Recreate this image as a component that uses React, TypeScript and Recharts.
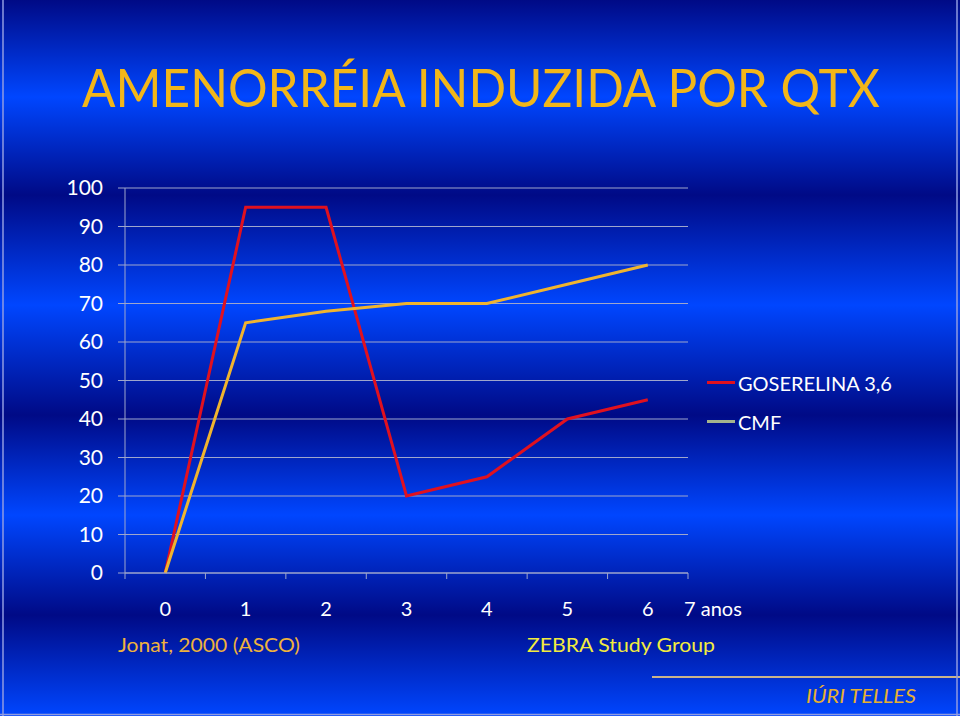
import { LineChart, Line, XAxis, YAxis, CartesianGrid, Legend } from "recharts";
import type { CSSProperties } from "react";

const YEARS = [0, 1, 2, 3, 4, 5, 6];
const GOSERELINA = [0, 95, 95, 20, 25, 40, 45];
const CMF = [0, 65, 68, 70, 70, 75, 80];

const Y_TICKS = [0, 10, 20, 30, 40, 50, 60, 70, 80, 90, 100];
const BAND_EDGES = [-0.5, 0.5, 1.5, 2.5, 3.5, 4.5, 5.5, 6.5];
const YEAR_LABELS = [0, 1, 2, 3, 4, 5, 6, 6.5];
const LAST_LABEL = "7 anos";

const SERIES = [
  { key: "goserelina", name: "GOSERELINA 3,6", color: "#e0111f", legend: "#e0111f" },
  { key: "cmf", name: "CMF", color: "#f0b42e", legend: "#a4b38d" },
];

const data = YEARS.map((year, i) => ({ year, goserelina: GOSERELINA[i], cmf: CMF[i] }));

const FONT = "Lato, 'Open Sans', sans-serif";
const GRID = "#9ea6cc";

function YearTick(props: any) {
  const { x, y, payload } = props;
  const last = payload.value === 6.5;
  return (
    <text
      x={last ? x - 4 : x}
      y={y}
      dy={14}
      textAnchor={last ? "start" : "middle"}
      fill="#ffffff"
      fontSize={20}
      fontFamily={FONT}
    >
      {last ? LAST_LABEL : payload.value}
    </text>
  );
}

// legend keeps the series order (recharts sorts by name otherwise)
function LegendBox() {
  return (
    <div>
      {SERIES.map((s) => (
        <div key={s.key} style={legendRow}>
          <span style={{ width: 28, height: 3, background: s.legend, display: "inline-block" }} />
          <span style={{ marginLeft: 3, fontSize: 20, color: "#ffffff", fontFamily: FONT }}>{s.name}</span>
        </div>
      ))}
    </div>
  );
}

export default function App() {
  return (
    <div style={frame}>
      <div style={background} />
      <div style={{ position: "absolute", left: 0, top: 0 }}>
        <LineChart width={960} height={716} data={data} margin={{ top: 188, right: 272, bottom: 97, left: 0 }}>
          <CartesianGrid xAxisId={0} vertical={false} stroke={GRID} strokeWidth={1} />
          <XAxis
            xAxisId={0}
            dataKey="year"
            type="number"
            domain={[-0.5, 6.5]}
            ticks={BAND_EDGES}
            interval={0}
            height={6}
            tick={() => <g />}
            tickSize={6}
            axisLine={{ stroke: GRID }}
            tickLine={{ stroke: GRID }}
          />
          <XAxis
            xAxisId={1}
            dataKey="year"
            type="number"
            domain={[-0.5, 6.5]}
            ticks={YEAR_LABELS}
            interval={0}
            height={40}
            tickSize={0}
            tickMargin={23}
            axisLine={false}
            tickLine={false}
            tick={<YearTick />}
          />
          <YAxis
            domain={[0, 100]}
            ticks={Y_TICKS}
            interval={0}
            width={125}
            tickSize={7}
            tickMargin={15}
            axisLine={{ stroke: GRID }}
            tickLine={{ stroke: GRID }}
            tick={{ fill: "#ffffff", fontSize: 21, fontFamily: FONT }}
          />
          <Legend
            layout="horizontal"
            verticalAlign="middle"
            align="center"
            content={<LegendBox />}
            wrapperStyle={{ left: 707, top: 363, width: "auto" }}
          />
          {SERIES.map((s) => (
            <Line
              key={s.key}
              xAxisId={0}
              type="linear"
              dataKey={s.key}
              name={s.name}
              stroke={s.color}
              strokeWidth={3}
              dot={false}
              activeDot={false}
              isAnimationActive={false}
            />
          ))}
        </LineChart>
      </div>
      <svg width={960} height={716} style={{ position: "absolute", left: 0, top: 0, pointerEvents: "none" }}>
        <text
          x={481}
          y={107}
          textAnchor="middle"
          fontSize={52}
          fontFamily={FONT}
          fill="#f2b619"
          textLength={798}
          lengthAdjust="spacingAndGlyphs"
        >
          AMENORRÉIA INDUZIDA POR QTX
        </text>
        <text x={118} y={652} fontSize={20} fontFamily={FONT} fill="#efb23c" textLength={182} lengthAdjust="spacingAndGlyphs">
          Jonat, 2000 (ASCO)
        </text>
        <text x={527} y={652} fontSize={20} fontFamily={FONT} fill="#f3ec3e" textLength={188} lengthAdjust="spacingAndGlyphs">
          ZEBRA Study Group
        </text>
        <line x1={652} x2={960} y1={677} y2={677} stroke="#c9b48c" strokeWidth={2} />
        <text x={806} y={703} fontSize={20} fontStyle="italic" fontFamily={FONT} fill="#e6b030" textLength={110} lengthAdjust="spacingAndGlyphs">
          IÚRI TELLES
        </text>
        <line x1={3} x2={3} y1={0} y2={716} stroke="#8f9be0" strokeWidth={1.5} />
        <line x1={957} x2={957} y1={0} y2={716} stroke="#8f9be0" strokeWidth={1.5} />
        <line x1={0} x2={960} y1={714.5} y2={714.5} stroke="#8f9be0" strokeWidth={1.5} />
      </svg>
    </div>
  );
}

const frame: CSSProperties = {
  position: "absolute",
  left: 0,
  top: 0,
  width: 960,
  height: 716,
  overflow: "hidden",
};

const background: CSSProperties = {
  position: "absolute",
  inset: 0,
  background:
    "linear-gradient(to bottom, #000a86 0px, #0046ff 97px, #000a86 195px, #0046ff 305px, #000a86 415px, #0046ff 515px, #000a86 615px, #0046ff 716px)",
};

const legendRow: CSSProperties = {
  display: "flex",
  alignItems: "center",
  height: 39,
  whiteSpace: "nowrap",
};
